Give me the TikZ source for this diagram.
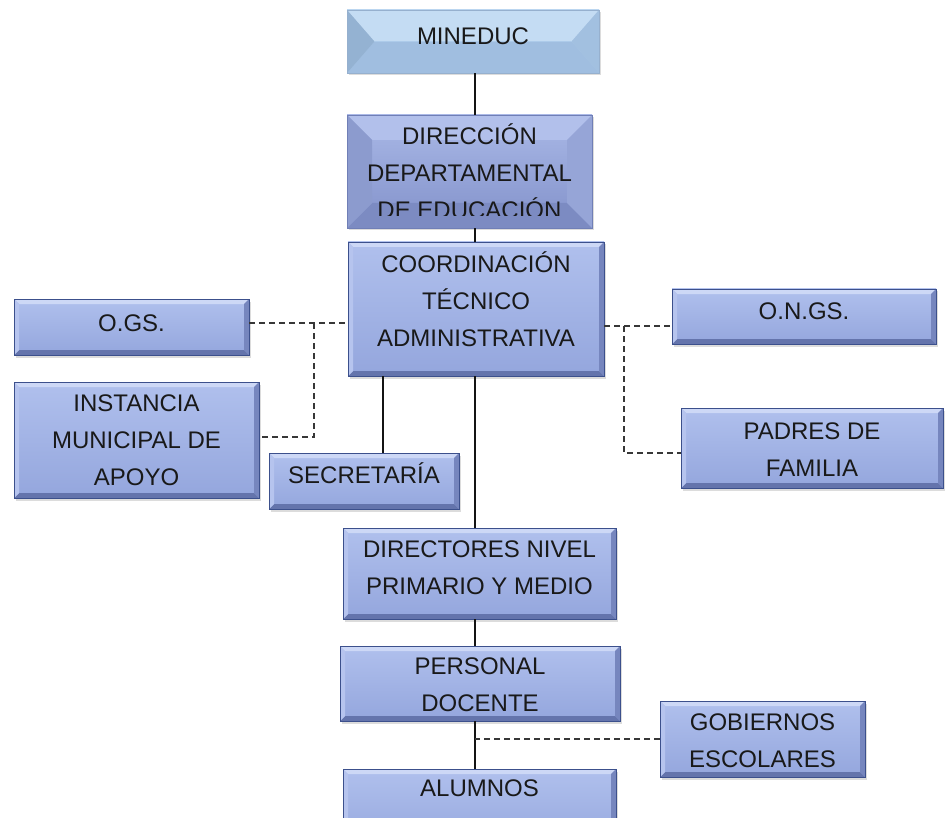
\documentclass[tikz,border=0pt]{standalone}
\usepackage{fontspec}
\setmainfont{Liberation Sans}
\usetikzlibrary{shadows}
\definecolor{txt}{RGB}{25,25,25}
\definecolor{bdr}{RGB}{60,80,140}
\definecolor{ftop}{RGB}{176,192,237}
\definecolor{fbot}{RGB}{148,166,221}
\definecolor{bvT}{RGB}{205,216,246}
\definecolor{bvB}{RGB}{100,116,172}
\definecolor{bvL}{RGB}{182,196,238}
\definecolor{bvR}{RGB}{118,134,190}
% MINEDUC
\definecolor{mtop}{RGB}{186,214,240}
\definecolor{mbot}{RGB}{166,198,232}
\definecolor{mT}{RGB}{196,220,243}
\definecolor{mB}{RGB}{160,190,224}
\definecolor{mL}{RGB}{148,178,210}
\definecolor{mR}{RGB}{162,192,224}
\definecolor{mbdr}{RGB}{150,176,206}
% DIRECCION
\definecolor{dtop}{RGB}{170,185,231}
\definecolor{dbot}{RGB}{130,145,202}
\definecolor{dT}{RGB}{178,192,235}
\definecolor{dB}{RGB}{124,139,194}
\definecolor{dL}{RGB}{140,155,206}
\definecolor{dR}{RGB}{150,165,215}
\definecolor{dbdr}{RGB}{112,127,182}
\definecolor{lnk}{RGB}{20,20,20}
\definecolor{dsk}{RGB}{55,55,55}
\colorlet{cvT}{bvT}\colorlet{cvB}{bvB}\colorlet{cvL}{bvL}\colorlet{cvR}{bvR}
\newcommand\bt[2]{\raisebox{\dimexpr #1pt-6.9pt\relax}[0pt][0pt]{\begin{tabular}{@{}c@{}}#2\end{tabular}}}
\tikzset{
  bevx/.store in=\bevx, bevy/.store in=\bevy, bevx=5pt, bevy=5pt,
  bevcols/.code n args={4}{\colorlet{cvT}{#1}\colorlet{cvB}{#2}\colorlet{cvL}{#3}\colorlet{cvR}{#4}},
  orgbox/.style={draw=bdr, line width=0.7pt, inner sep=0pt, text=txt,
    font=\fontsize{24}{37}\selectfont,
    top color=ftop, bottom color=fbot,
    drop shadow={shadow xshift=2pt,shadow yshift=-2.5pt,opacity=0.28},
    path picture={
      \coordinate (ppnw) at (path picture bounding box.north west);
      \coordinate (ppse) at (path picture bounding box.south east);
      \coordinate (ppne) at (ppnw -| ppse);
      \coordinate (ppsw) at (ppnw |- ppse);
      \fill[cvT] (ppnw) -- (ppne) -- ([xshift=-\bevx,yshift=-\bevy]ppne) -- ([xshift=\bevx,yshift=-\bevy]ppnw) -- cycle;
      \fill[cvB] (ppsw) -- (ppse) -- ([xshift=-\bevx,yshift=\bevy]ppse) -- ([xshift=\bevx,yshift=\bevy]ppsw) -- cycle;
      \fill[cvL] (ppnw) -- (ppsw) -- ([xshift=\bevx,yshift=\bevy]ppsw) -- ([xshift=\bevx,yshift=-\bevy]ppnw) -- cycle;
      \fill[cvR] (ppne) -- (ppse) -- ([xshift=-\bevx,yshift=\bevy]ppse) -- ([xshift=-\bevx,yshift=-\bevy]ppne) -- cycle;
    }},
  conn/.style={draw=lnk, line width=1.3pt},
  dsh/.style={draw=dsk, line width=1.2pt, dash pattern=on 6pt off 4pt},
}
\begin{document}
\begin{tikzpicture}[x=1pt,y=-1pt]
\useasboundingbox (0,0) rectangle (950,818);
\clip (0,0) rectangle (950,818);

\node[orgbox, draw=mbdr, top color=mtop, bottom color=mbot, bevx=27pt, bevy=31pt,
      bevcols={mT}{mB}{mL}{mR}, minimum width=252pt, minimum height=63pt]
      (mineduc) at (473,41.5) {\bt{5.5}{MINEDUC}};

\node[orgbox, draw=dbdr, top color=dtop, bottom color=dbot, bevx=25pt, bevy=25pt,
      bevcols={dT}{dB}{dL}{dR}, minimum width=245pt, minimum height=113pt]
      (direccion) at (469.5,171.5) {\bt{-2}{DIRECCIÓN\\DEPARTAMENTAL\\DE EDUCACIÓN}};
\fill[dB] ([xshift=16pt,yshift=0.8pt]direccion.south west) rectangle ([xshift=-16pt,yshift=12.5pt]direccion.south east);

\node[orgbox, minimum width=256pt, minimum height=134pt]
      (coord) at (476,309) {\bt{8}{COORDINACIÓN\\TÉCNICO\\ADMINISTRATIVA}};
\node[orgbox, minimum width=235pt, minimum height=56pt]
      (ogs) at (131.5,327) {\bt{4}{O.GS.}};
\node[orgbox, minimum width=245pt, minimum height=116pt]
      (instancia) at (136.5,440) {\bt{0}{INSTANCIA\\MUNICIPAL DE\\APOYO}};
\node[orgbox, minimum width=190pt, minimum height=56pt]
      (secretaria) at (364,481) {\bt{6}{SECRETARÍA}};
\node[orgbox, minimum width=264pt, minimum height=55pt]
      (ongs) at (804,316.5) {\bt{5.5}{O.N.GS.}};
\node[orgbox, minimum width=262pt, minimum height=80pt]
      (padres) at (812,448) {\bt{-1.5}{PADRES DE\\FAMILIA}};
\node[orgbox, minimum width=273pt, minimum height=91pt]
      (directores) at (479.5,573.5) {\bt{5.5}{DIRECTORES NIVEL\\PRIMARIO Y MEDIO}};
\node[orgbox, minimum width=280pt, minimum height=75pt]
      (personal) at (480,683.5) {\bt{-1.5}{PERSONAL\\DOCENTE}};
\node[orgbox, minimum width=205pt, minimum height=76pt]
      (gobiernos) at (762.5,739) {\bt{-1.5}{GOBIERNOS\\ESCOLARES}};
\node[orgbox, minimum width=273pt, minimum height=81pt]
      (alumnos) at (479.5,809.5) {\bt{21.5}{ALUMNOS}};

\coordinate (sp) at (475,0);
\coordinate (sx) at (383,0);
\coordinate (ly) at (0,323);
\coordinate (lj) at (314,0);
\coordinate (ly2) at (0,437);
\coordinate (ry) at (0,326);
\coordinate (rj) at (624,0);
\coordinate (ry2) at (0,453);
\coordinate (gy) at (0,739);

\draw[conn] (mineduc.south -| sp) -- (direccion.north -| sp);
\draw[conn] (direccion.south -| sp) -- (coord.north -| sp);
\draw[conn] (coord.south -| sp) -- (directores.north -| sp);
\draw[conn] (coord.south -| sx) -- (secretaria.north -| sx);
\draw[conn] (directores.south -| sp) -- (personal.north -| sp);
\draw[conn] (personal.south -| sp) -- (alumnos.north -| sp);

\draw[dsh] (ogs.east |- ly) -- (coord.west |- ly);
\draw[dsh] (lj |- ly) -- (lj |- ly2) -- (instancia.east |- ly2);
\draw[dsh] (coord.east |- ry) -- (ongs.west |- ry);
\draw[dsh] (rj |- ry) -- (rj |- ry2) -- (padres.west |- ry2);
\draw[dsh] (gobiernos.west |- gy) -- (sp |- gy);
\end{tikzpicture}
\end{document}
